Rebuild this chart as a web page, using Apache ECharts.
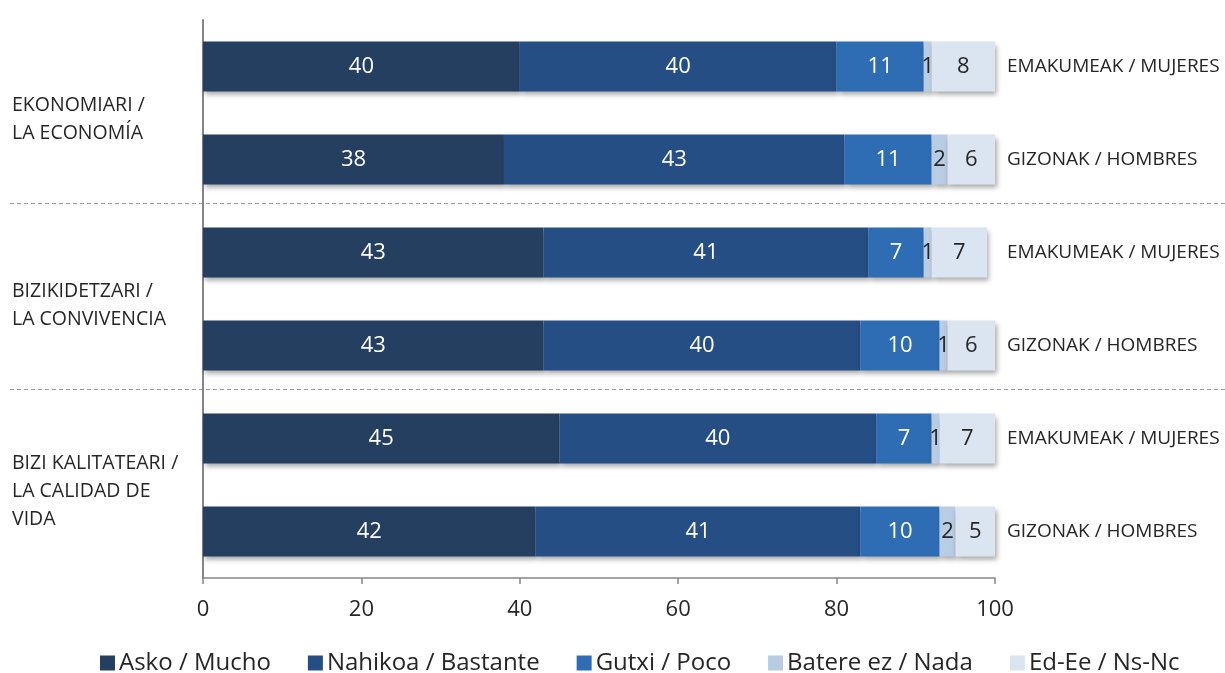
<!DOCTYPE html>
<html>
<head>
<meta charset="utf-8">
<script src="https://cdn.jsdelivr.net/npm/echarts@6/dist/echarts.min.js"></script>
<style>
html,body{margin:0;padding:0;background:#fff;}
#c{width:1225px;height:673px;}
</style>
</head>
<body>
<div id="c"></div>
<script>
const groupLabels = ['EKONOMIARI /\nLA ECONOMÍA', 'BIZIKIDETZARI /\nLA CONVIVENCIA', 'BIZI KALITATEARI /\nLA CALIDAD DE\nVIDA'];
const rowLabels = ['EMAKUMEAK / MUJERES', 'GIZONAK / HOMBRES', 'EMAKUMEAK / MUJERES', 'GIZONAK / HOMBRES', 'EMAKUMEAK / MUJERES', 'GIZONAK / HOMBRES'];
const seriesNames = ['Asko / Mucho', 'Nahikoa / Bastante', 'Gutxi / Poco', 'Batere ez / Nada', 'Ed-Ee / Ns-Nc'];
const asko    = [40, 38, 43, 43, 45, 42];
const nahikoa = [40, 43, 41, 40, 40, 41];
const gutxi   = [11, 11, 7, 10, 7, 10];
const batere  = [1, 2, 1, 1, 1, 2];
const edee    = [8, 6, 7, 6, 7, 5];
const xTicks = [0, 20, 40, 60, 80, 100];

const values = [asko, nahikoa, gutxi, batere, edee];
const colors = ['#243F60', '#254E85', '#2E6DB4', '#B8CCE4', '#DBE5F1'];
const labelColors = ['#ffffff', '#ffffff', '#ffffff', '#262626', '#262626'];
const FONT = 'Open Sans';
const rowIdx = rowLabels.map((_, i) => String(i));

const chart = echarts.init(document.getElementById('c'), null, {renderer: 'canvas'});
const option = {
  animation: false,
  textStyle: {fontFamily: FONT},
  grid: [
    {left: 203, right: 230, top: 20, bottom: 95, containLabel: false},
    {left: 203, right: 230, top: 26, bottom: 89, containLabel: false}
  ],
  legend: {
    top: 646, left: 95,
    itemWidth: 15, itemHeight: 15, itemGap: 37,
    icon: 'rect',
    textStyle: {fontFamily: FONT, fontSize: 24, color: '#262626', padding: [0, 0, 0, -1]},
    data: seriesNames
  },
  xAxis: [
    {
      type: 'value', gridIndex: 0,
      min: xTicks[0], max: xTicks[xTicks.length - 1], interval: xTicks[1] - xTicks[0],
      axisLine: {show: true, lineStyle: {color: '#868686', width: 1.5}},
      axisTick: {show: true, length: 6, lineStyle: {color: '#868686', width: 1.5}},
      axisLabel: {fontFamily: FONT, fontSize: 22, color: '#262626', margin: 21},
      splitLine: {show: false}
    },
    {
      type: 'value', gridIndex: 1, min: 0, max: 100, show: false
    }
  ],
  yAxis: [
    {
      type: 'category', gridIndex: 0, data: rowIdx, inverse: true,
      axisLine: {show: true, lineStyle: {color: '#868686', width: 2}},
      axisTick: {show: false}, axisLabel: {show: false}
    },
    {
      type: 'category', gridIndex: 0, data: rowIdx, inverse: true, position: 'right',
      axisLine: {show: false}, axisTick: {show: false},
      axisLabel: {
        fontFamily: FONT, fontSize: 19, color: '#262626', margin: 12, align: 'left',
        formatter: (v) => rowLabels[+v]
      }
    },
    {
      type: 'category', gridIndex: 1, data: groupLabels, inverse: true, position: 'left',
      axisLine: {show: false}, axisTick: {show: false}, splitLine: {show: false},
      axisLabel: {fontFamily: FONT, fontSize: 19.5, color: '#262626', margin: 191, align: 'left',
        lineHeight: 28}
    }
  ],
  series: seriesNames.map((name, k) => ({
    name, type: 'bar', stack: 'total', xAxisIndex: 0, yAxisIndex: 0,
    barWidth: 50,
    data: values[k],
    itemStyle: {
      color: colors[k],
      shadowColor: 'rgba(0,0,0,0.35)', shadowBlur: 5, shadowOffsetX: 2, shadowOffsetY: 3
    },
    label: {
      show: true, position: 'inside', fontFamily: FONT, fontSize: 22,
      color: labelColors[k], formatter: (p) => p.value
    }
  }))
};
chart.setOption(option);

// dashed separators between groups (positions from the category axis)
const seps = [];
for (let g = 1; g < groupLabels.length; g++) {
  const a = chart.convertToPixel({yAxisIndex: 0}, String(g * 2 - 1));
  const b = chart.convertToPixel({yAxisIndex: 0}, String(g * 2));
  const y = Math.round((a + b) / 2) - 2.5;
  seps.push({
    type: 'line', silent: true, z: 0,
    shape: {x1: 10, y1: y, x2: 1225, y2: y},
    style: {stroke: '#9a9a9a', lineWidth: 1, lineDash: [4, 3]}
  });
}
chart.setOption({graphic: seps});
</script>
</body>
</html>
